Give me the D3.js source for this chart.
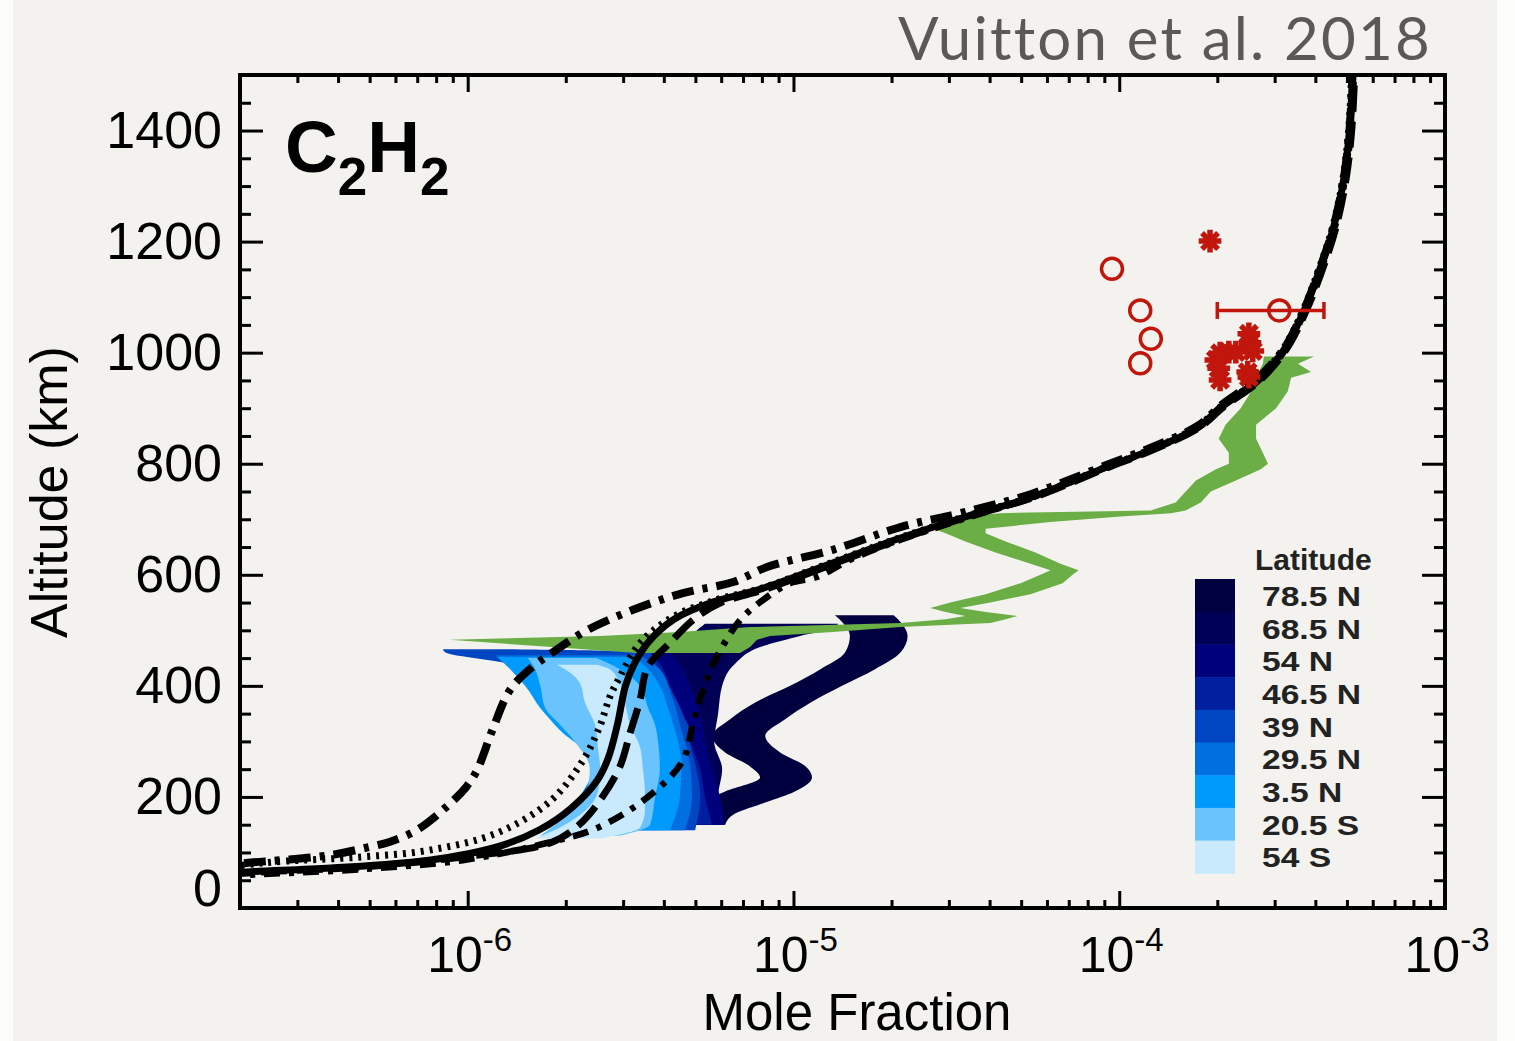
<!DOCTYPE html>
<html>
<head>
<meta charset="utf-8">
<script src="https://cdn.jsdelivr.net/npm/d3@7"></script>
<style>
  html, body { margin: 0; padding: 0; background: #fcfcfb; }
  svg { display: block; }
</style>
</head>
<body>
<svg id="chart" width="1515" height="1041"></svg>
<script>
// ---- data (altitude km, mole fraction) ----
const solid = [
  [60, 1.6e-7], [65, 2.1e-7], [72, 3.8e-7], [86, 7.6e-7], [110, 1.23e-6], [140, 1.65e-6],
  [180, 2.08e-6], [230, 2.5e-6], [270, 2.7e-6], [330, 2.88e-6], [400, 3.05e-6], [440, 3.25e-6],
  [480, 3.6e-6], [520, 4.3e-6], [550, 5.6e-6], [575, 8.0e-6], [620, 1.3e-5], [665, 2.1e-5],
  [705, 3.4e-5], [740, 5.4e-5], [790, 8.8e-5], [825, 1.25e-4], [866, 1.75e-4], [902, 2.05e-4],
  [950, 2.65e-4], [1005, 3.2e-4], [1077, 3.7e-4], [1154, 4.15e-4], [1226, 4.55e-4],
  [1316, 4.9e-4], [1406, 5.1e-4], [1500, 5.2e-4]
];
const dashed = [
  [60, 1.8e-7], [65, 2.34e-7], [74, 4.75e-7], [92, 9.65e-7], [117, 1.79e-6], [150, 2.2e-6],
  [194, 2.55e-6], [254, 2.93e-6], [315, 3.15e-6], [374, 3.38e-6], [434, 3.57e-6], [477, 4.17e-6],
  [519, 4.92e-6], [549, 5.95e-6], [575, 8.3e-6], [620, 1.33e-5], [665, 2.15e-5], [705, 3.45e-5],
  [740, 5.5e-5], [790, 8.95e-5], [825, 1.27e-4], [866, 1.77e-4], [902, 2.09e-4], [950, 2.7e-4],
  [1005, 3.25e-4], [1077, 3.76e-4], [1154, 4.23e-4], [1226, 4.63e-4], [1316, 4.98e-4],
  [1406, 5.18e-4], [1500, 5.28e-4]
];
const dotted = [
  [60, 1.3e-7], [81, 2.34e-7], [92, 4.75e-7], [104, 7.6e-7], [135, 1.23e-6], [192, 1.79e-6],
  [266, 2.26e-6], [326, 2.54e-6], [380, 2.73e-6], [416, 2.93e-6], [477, 3.38e-6], [524, 4.26e-6],
  [555, 5.8e-6], [575, 7.9e-6], [620, 1.28e-5], [665, 2.08e-5], [705, 3.37e-5], [740, 5.37e-5],
  [790, 8.75e-5], [825, 1.24e-4], [866, 1.73e-4], [902, 2.04e-4], [950, 2.63e-4], [1005, 3.17e-4],
  [1077, 3.67e-4], [1154, 4.12e-4], [1226, 4.52e-4], [1316, 4.87e-4], [1406, 5.07e-4], [1500, 5.17e-4]
];
const dashDotLeft = [
  [70, 1.5e-7], [81, 2.09e-7], [86, 2.64e-7], [95, 3.77e-7], [110, 5.0e-7], [119, 5.75e-7],
  [140, 6.97e-7], [182, 8.6e-7], [218, 9.9e-7], [249, 1.07e-6], [320, 1.19e-6], [393, 1.35e-6],
  [434, 1.58e-6], [461, 1.83e-6], [500, 2.32e-6], [537, 3.22e-6], [567, 4.58e-6], [587, 6.53e-6],
  [614, 8.3e-6], [645, 1.32e-5], [686, 2.13e-5], [712, 3.3e-5], [746, 5.4e-5], [794, 8.8e-5],
  [829, 1.25e-4], [869, 1.75e-4], [905, 2.05e-4], [953, 2.65e-4], [1007, 3.2e-4], [1079, 3.7e-4],
  [1155, 4.15e-4], [1227, 4.55e-4], [1317, 4.9e-4], [1407, 5.1e-4], [1500, 5.2e-4]
];
const dashDotRight = [
  [58, 1.8e-7], [61, 2.34e-7], [70, 4.75e-7], [86, 9.65e-7], [117, 1.75e-6], [146, 2.54e-6],
  [207, 3.7e-6], [266, 4.58e-6], [333, 4.92e-6], [393, 5.28e-6], [452, 5.82e-6], [519, 6.87e-6],
  [560, 8.3e-6], [585, 9.77e-6], [596, 1.18e-5], [627, 1.49e-5], [663, 2.13e-5], [700, 3.3e-5],
  [740, 5.45e-5], [790, 8.85e-5], [825, 1.26e-4], [866, 1.76e-4], [902, 2.07e-4], [950, 2.68e-4],
  [1005, 3.23e-4], [1077, 3.73e-4], [1154, 4.19e-4], [1226, 4.59e-4], [1316, 4.94e-4],
  [1406, 5.15e-4], [1500, 5.25e-4]
];

// latitude bands: [altitude, low, high]
const latitudes = ["78.5 N", "68.5 N", "54 N", "46.5 N", "39 N", "29.5 N", "3.5 N", "20.5 S", "54 S"];
const latColors = ["#00003f", "#000057", "#00007c", "#001f9e", "#0046c2", "#006fe0", "#0099fc", "#6ac3fd", "#c9eafd"];
const band785N = [
  [150, 4.81e-6, 6.17e-6], [170, 4.75e-6, 6.62e-6], [190, 5.17e-6, 8.19e-6], [210, 6.17e-6, 1.01e-5],
  [235, 7.9e-6, 1.14e-5], [255, 7.36e-6, 1.09e-5], [280, 6.17e-6, 9.1e-6], [310, 5.63e-6, 8.19e-6],
  [340, 6.39e-6, 9.43e-6], [370, 7.63e-6, 1.13e-5], [400, 9.77e-6, 1.41e-5], [430, 1.21e-5, 1.78e-5],
  [460, 1.44e-5, 2.13e-5], [490, 1.49e-5, 2.24e-5], [515, 1.41e-5, 2.13e-5], [527, 1.34e-5, 2.03e-5]
];
const band685N = [
  [150, 3.89e-6, 6.04e-6], [200, 4.03e-6, 5.87e-6], [250, 4.12e-6, 6.04e-6], [300, 4.12e-6, 5.71e-6],
  [350, 3.94e-6, 5.87e-6], [400, 3.76e-6, 6.04e-6], [440, 3.63e-6, 6.62e-6], [470, 3.89e-6, 7.9e-6],
  [490, 4.81e-6, 1.05e-5], [505, 5.17e-6, 1.34e-5], [512, 5.35e-6, 1.37e-5]
];
const band54N = [
  [150, 3.63e-6, 6.17e-6], [200, 3.76e-6, 5.95e-6], [250, 3.63e-6, 5.63e-6], [300, 3.38e-6, 5.35e-6],
  [350, 3.15e-6, 5.17e-6], [400, 2.93e-6, 4.81e-6], [440, 2.73e-6, 4.48e-6], [460, 2.64e-6, 4.18e-6]
];
const band465N = [
  [150, 3.38e-6, 5.63e-6], [200, 3.38e-6, 5.35e-6], [250, 3.26e-6, 5.17e-6], [300, 3.04e-6, 4.81e-6],
  [350, 2.93e-6, 4.48e-6], [400, 2.77e-6, 4.18e-6], [440, 2.64e-6, 3.89e-6], [460, 2.55e-6, 3.63e-6]
];
const band39N = [
  [140, 2.37e-6, 4.99e-6], [200, 2.55e-6, 5.17e-6], [260, 2.73e-6, 4.99e-6], [300, 2.37e-6, 4.81e-6],
  [320, 2.06e-6, 4.81e-6], [340, 2.29e-6, 4.65e-6], [380, 2.06e-6, 4.33e-6], [410, 2.02e-6, 4.03e-6],
  [440, 1.35e-6, 3.76e-6], [461, 0.85e-6, 3.63e-6], [466, 0.84e-6, 1.25e-6]
];
const band295N = [
  [140, 2.06e-6, 4.65e-6], [200, 2.37e-6, 4.88e-6], [260, 2.55e-6, 4.81e-6], [320, 2.21e-6, 4.53e-6],
  [380, 1.92e-6, 4.24e-6], [430, 1.45e-6, 3.89e-6], [455, 1.21e-6, 3.38e-6]
];
const band35N = [
  [140, 1.92e-6, 4.18e-6], [200, 2.21e-6, 4.48e-6], [260, 2.46e-6, 4.53e-6], [320, 1.92e-6, 4.33e-6],
  [360, 1.67e-6, 4.12e-6], [400, 1.5e-6, 3.89e-6], [430, 1.35e-6, 3.58e-6], [452, 1.23e-6, 3.26e-6]
];
const band205S = [
  [130, 1.67e-6, 2.93e-6], [150, 1.85e-6, 3.63e-6], [200, 2.29e-6, 3.76e-6], [250, 2.37e-6, 3.89e-6],
  [300, 2.13e-6, 3.84e-6], [330, 1.92e-6, 3.76e-6], [360, 1.73e-6, 3.58e-6], [400, 1.67e-6, 3.38e-6],
  [430, 1.61e-6, 2.93e-6], [450, 1.53e-6, 2.49e-6]
];
const band54S = [
  [125, 1.61e-6, 2.55e-6], [145, 1.92e-6, 3.38e-6], [175, 2.29e-6, 3.5e-6], [210, 2.51e-6, 3.5e-6],
  [250, 2.55e-6, 3.45e-6], [290, 2.51e-6, 3.38e-6], [330, 2.46e-6, 3.15e-6], [370, 2.29e-6, 3.04e-6],
  [405, 2.21e-6, 2.93e-6], [430, 1.99e-6, 2.73e-6], [438, 1.88e-6, 2.49e-6]
];
const latBands = [band785N, band685N, band54N, band465N, band39N, band295N, band35N, band205S, band54S];

// green retrieval range: [altitude, low, high]
const greenBand = [
  [459, 3.31e-6, 6.86e-6], [470, 1.81e-6, 7.36e-6], [483, 0.88e-6, 7.73e-6], [490, 2.55e-6, 8.48e-6],
  [497, 4.48e-6, 1.32e-5], [506, 7.36e-6, 2.13e-5], [513, 2.13e-5, 4.02e-5], [520, 2.93e-5, 4.48e-5],
  [526, 3.37e-5, 4.87e-5], [533, 2.93e-5, 3.89e-5], [540, 2.63e-5, 3.25e-5], [550, 3.03e-5, 4.02e-5],
  [565, 3.89e-5, 5.34e-5], [585, 4.98e-5, 6.7e-5], [600, 5.73e-5, 7.19e-5], [608, 6.15e-5, 7.5e-5],
  [620, 5.34e-5, 6.6e-5], [640, 4.17e-5, 5.53e-5], [660, 3.37e-5, 4.48e-5], [675, 2.93e-5, 3.89e-5],
  [683, 2.69e-5, 3.89e-5], [695, 2.93e-5, 6.15e-5], [705, 3.25e-5, 1.01e-4], [711, 4.32e-5, 1.44e-4],
  [716, 1.25e-4, 1.6e-4], [730, 1.49e-4, 1.78e-4], [750, 1.6e-4, 1.91e-4], [770, 1.72e-4, 2.28e-4],
  [790, 1.98e-4, 2.72e-4], [800, 2.17e-4, 2.86e-4], [820, 2.17e-4, 2.76e-4], [845, 2.02e-4, 2.63e-4],
  [870, 2.12e-4, 2.63e-4], [900, 2.36e-4, 3.03e-4], [930, 2.54e-4, 3.29e-4], [955, 2.63e-4, 3.37e-4],
  [965, 2.68e-4, 3.88e-4], [980, 2.76e-4, 3.54e-4], [993, 2.78e-4, 3.96e-4]
];

// observations
const circles = [[1151, 9.5e-5], [1076, 1.16e-4], [1025, 1.25e-4], [981, 1.16e-4], [1076, 3.1e-4]];
const circleErr = [[1076, 2.0e-4, 4.25e-4]];
const stars = [
  [1201, 1.9e-4], [1034, 2.5e-4], [1018, 2.52e-4], [1003, 2.57e-4], [999, 2.04e-4], [1001, 2.17e-4],
  [1001, 2.28e-4], [987, 1.98e-4], [972, 2.02e-4], [951, 2.04e-4], [965, 2.48e-4], [956, 2.5e-4]
];

// axes
const xMajor = [1e-6, 1e-5, 1e-4, 1e-3];
const xLabelExp = ["-6", "-5", "-4", "-3"];
const yMajor = [0, 200, 400, 600, 800, 1000, 1200, 1400];

// ---- layout ----
const L = 240, R = 1445, T = 75, B = 908;
const RED = "#c1160c";
const FONT = "Liberation Sans, Arial, Helvetica, sans-serif";

const svg = d3.select("#chart");
svg.append("rect").attr("x", 13).attr("y", 0).attr("width", 1484).attr("height", 1041).attr("fill", "#f3f2ef");

const x = d3.scaleLog().domain([2e-7, 1e-3]).range([L, R]);
const y = d3.scaleLinear().domain([0, 1500]).range([B, T]);

svg.append("clipPath").attr("id", "plotclip")
  .append("rect").attr("x", L).attr("y", T).attr("width", R - L).attr("height", B - T);
const plot = svg.append("g").attr("clip-path", "url(#plotclip)");

// latitude bands, darkest first
const bandArea = d3.area()
  .y(d => y(d[0])).x0(d => x(d[1])).x1(d => x(d[2]))
  .curve(d3.curveMonotoneY);
latBands.forEach((b, i) => {
  plot.append("path").attr("d", bandArea(b)).attr("fill", latColors[i]);
});

// green band
const greenArea = d3.area()
  .y(d => y(d[0])).x0(d => x(d[1])).x1(d => x(d[2]))
  .curve(d3.curveLinear);
plot.append("path").attr("d", greenArea(greenBand)).attr("fill", "#6aae45");

// model curves
const line = d3.line().x(d => x(d[1])).y(d => y(d[0])).curve(d3.curveCatmullRom.alpha(0.5));
const models = [
  {data: dashDotLeft, w: 8, dash: "22 9 5 9"},
  {data: dashDotRight, w: 6.5, dash: "16 9 5 9"},
  {data: dotted, w: 7, dash: "3 6"},
  {data: dashed, w: 7, dash: "26 10"},
  {data: solid, w: 7, dash: null}
];
models.forEach(m => {
  plot.append("path").attr("d", line(m.data))
    .attr("fill", "none").attr("stroke", "#000").attr("stroke-width", m.w)
    .attr("stroke-dasharray", m.dash);
});

// observations
svg.selectAll(".err").data(circleErr).join("g").each(function(d) {
  const g = d3.select(this);
  g.append("line").attr("x1", x(d[1])).attr("x2", x(d[2])).attr("y1", y(d[0])).attr("y2", y(d[0]));
  g.append("line").attr("x1", x(d[1])).attr("x2", x(d[1])).attr("y1", y(d[0]) - 8.5).attr("y2", y(d[0]) + 8.5);
  g.append("line").attr("x1", x(d[2])).attr("x2", x(d[2])).attr("y1", y(d[0]) - 8.5).attr("y2", y(d[0]) + 8.5);
}).attr("stroke", RED).attr("stroke-width", 3.5);

svg.selectAll(".obs").data(circles).join("circle")
  .attr("cx", d => x(d[1])).attr("cy", d => y(d[0])).attr("r", 10.5)
  .attr("fill", "none").attr("stroke", RED).attr("stroke-width", 3.5);

const plus = d3.symbol(d3.symbolPlus, 170);
const times = d3.symbol(d3.symbolTimes, 170);
const starG = svg.selectAll(".star").data(stars).join("g")
  .attr("transform", d => `translate(${x(d[1])},${y(d[0])})`)
  .attr("stroke", RED).attr("stroke-width", 5.5).attr("fill", "none");
starG.append("path").attr("d", plus);
starG.append("path").attr("d", times);

// ---- axes ----
const xMinor = x.ticks().filter(v => !xMajor.some(m => Math.abs(v / m - 1) < 1e-6) && x(v) > L + 2);
const yMinor = y.ticks(30).filter(v => yMajor.indexOf(v) < 0 && v < 1500);
const noLabel = () => "";

function styleAxis(g) {
  g.select(".domain").remove();
  g.selectAll(".tick line").attr("stroke", "#000").attr("stroke-width", 3);
}

svg.append("g").attr("transform", `translate(0,${B})`)
  .call(d3.axisBottom(x).tickValues(xMajor).tickSize(-17).tickFormat(noLabel)).call(styleAxis);
svg.append("g").attr("transform", `translate(0,${B})`)
  .call(d3.axisBottom(x).tickValues(xMinor).tickSize(-8).tickFormat(noLabel)).call(styleAxis);
svg.append("g").attr("transform", `translate(0,${T})`)
  .call(d3.axisTop(x).tickValues(xMajor).tickSize(-17).tickFormat(noLabel)).call(styleAxis);
svg.append("g").attr("transform", `translate(0,${T})`)
  .call(d3.axisTop(x).tickValues(xMinor).tickSize(-8).tickFormat(noLabel)).call(styleAxis);

const yAxisG = svg.append("g").attr("transform", `translate(${L},0)`)
  .call(d3.axisLeft(y).tickValues(yMajor).tickSize(-23).tickPadding(18).tickFormat(d3.format("d")))
  .call(styleAxis);
yAxisG.selectAll(".tick text")
  .attr("font-family", FONT).attr("font-size", 52).attr("fill", "#000")
  .filter(d => d === 0).attr("y", -19);
svg.append("g").attr("transform", `translate(${L},0)`)
  .call(d3.axisLeft(y).tickValues(yMinor).tickSize(-11).tickFormat(noLabel)).call(styleAxis);
svg.append("g").attr("transform", `translate(${R},0)`)
  .call(d3.axisRight(y).tickValues(yMajor).tickSize(-23).tickFormat(noLabel)).call(styleAxis);
svg.append("g").attr("transform", `translate(${R},0)`)
  .call(d3.axisRight(y).tickValues(yMinor).tickSize(-11).tickFormat(noLabel)).call(styleAxis);

svg.append("rect").attr("x", L).attr("y", T).attr("width", R - L).attr("height", B - T)
  .attr("fill", "none").attr("stroke", "#000").attr("stroke-width", 4);

const xl = svg.selectAll(".xlab").data(xMajor).join("text")
  .attr("x", d => x(d) + 2).attr("y", 972)
  .attr("text-anchor", "middle").attr("font-family", FONT).attr("font-size", 50).attr("fill", "#000");
xl.append("tspan").text("10");
xl.append("tspan").attr("dy", -21).attr("font-size", 33).text((d, i) => xLabelExp[i]);

svg.append("text").attr("x", 857).attr("y", 1030).attr("text-anchor", "middle")
  .attr("font-family", FONT).attr("font-size", 51).attr("fill", "#000").text("Mole Fraction");
svg.append("text").attr("transform", "translate(67,492) rotate(-90)").attr("text-anchor", "middle")
  .attr("font-family", FONT).attr("font-size", 52).attr("fill", "#000").text("Altitude (km)");

// species label
const sp = svg.append("text").attr("x", 285).attr("y", 172)
  .attr("font-family", FONT).attr("font-weight", "bold").attr("font-size", 73).attr("fill", "#000");
sp.append("tspan").text("C");
sp.append("tspan").attr("dy", 23).attr("font-size", 53).text("2");
sp.append("tspan").attr("dy", -23).text("H");
sp.append("tspan").attr("dy", 23).attr("font-size", 53).text("2");

// citation
svg.append("text").attr("x", 1432).attr("y", 60).attr("text-anchor", "end")
  .attr("font-family", "Lato, Noto Sans, sans-serif").attr("font-size", 60)
  .attr("letter-spacing", 2.2).attr("fill", "#5b5956")
  .text("Vuitton et al. 2018");

// ---- legend ----
const legY = 579, legH = 32.7;
const leg = svg.append("g");
leg.append("text").attr("x", 1255).attr("y", 570)
  .attr("font-family", FONT).attr("font-weight", "bold").attr("font-size", 30).attr("fill", "#222")
  .text("Latitude");
leg.selectAll("rect").data(latitudes).join("rect")
  .attr("x", 1195).attr("width", 40)
  .attr("y", (d, i) => legY + i * legH).attr("height", legH + 0.5)
  .attr("fill", (d, i) => latColors[i]);
// labels: compact font, widened horizontally so rows do not collide
leg.append("g").attr("transform", "translate(1262,0) scale(1.2,1)")
  .selectAll("text").data(latitudes).join("text")
  .attr("x", 0).attr("y", (d, i) => legY + i * legH + legH / 2 + 10.5)
  .attr("font-family", FONT).attr("font-weight", "bold").attr("font-size", 28).attr("fill", "#222")
  .text(d => d);
</script>
</body>
</html>
